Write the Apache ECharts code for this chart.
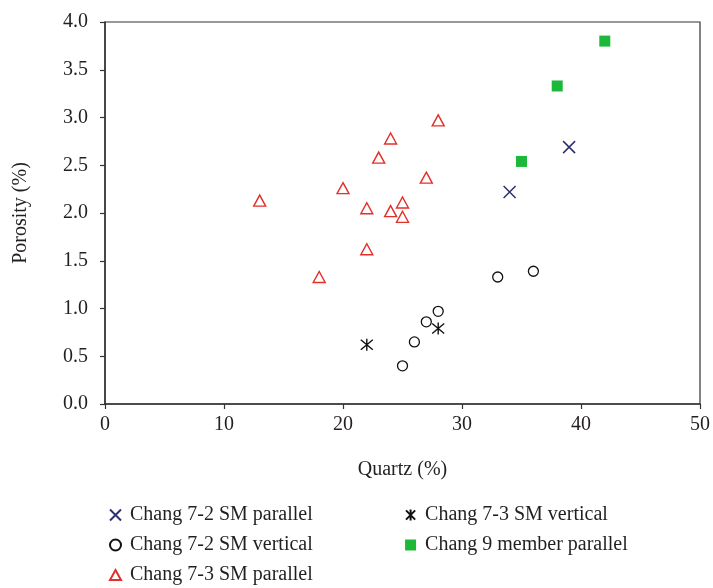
<!DOCTYPE html>
<html>
<head>
<meta charset="utf-8">
<script src="https://cdn.jsdelivr.net/npm/echarts@6/dist/echarts.min.js"></script>
<style>html,body{margin:0;padding:0;background:#fff}#c{width:713px;height:588px}</style>
</head>
<body>
<div id="c"></div>
<script>
var seriesNames = ['Chang 7-2 SM parallel','Chang 7-2 SM vertical','Chang 7-3 SM parallel','Chang 7-3 SM vertical','Chang 9 member parallel'];
var c72Parallel = [[34,2.22],[39,2.69]];
var c72Vertical = [[25,0.40],[26,0.65],[27,0.86],[28,0.97],[33,1.33],[36,1.39]];
var c73Parallel = [[13,2.13],[18,1.33],[20,2.26],[22,2.05],[22,1.62],[23,2.58],[24,2.78],[24,2.02],[25,2.11],[25,1.96],[27,2.37],[28,2.97]];
var c73Vertical = [[22,0.62],[28,0.79]];
var c9Parallel = [[35,2.54],[38,3.33],[42,3.80]];
var xTicks = [0,10,20,30,40,50];
var yTicks = [0,0.5,1,1.5,2,2.5,3,3.5,4];

var FONT = 'Liberation Serif';
var TXT = '#231f20';
var crossPath = 'path://M0,0L10,10M10,0L0,10';
var asterPath = 'path://M0,0L10,10M10,0L0,10M5,-1L5,11';
var triPath = 'path://M5,0L10,9L0,9Z';

var legendText = {fontFamily:FONT,fontSize:20,lineHeight:20,color:TXT,padding:[0,0,0,4]};

var chart = echarts.init(document.getElementById('c'));
chart.setOption({
  animation:false,
  backgroundColor:'#fff',
  grid:{left:105,right:10,top:22,bottom:184,show:true,borderColor:'#333',borderWidth:1.2,backgroundColor:'transparent'},
  xAxis:{type:'value',min:0,max:50,interval:10,
    name:'Quartz (%)',nameLocation:'middle',nameGap:56,
    nameTextStyle:{fontFamily:FONT,fontSize:20,color:TXT},
    axisLine:{show:true,lineStyle:{color:'#333',width:1.5}},
    axisTick:{show:true,inside:false,length:5,lineStyle:{color:'#333',width:1.2}},
    axisLabel:{fontFamily:FONT,fontSize:20,color:TXT,margin:11,formatter:function(v){return xTicks.indexOf(v)>=0?String(v):'';}},
    splitLine:{show:false}},
  yAxis:{type:'value',min:0,max:4,interval:0.5,
    name:'Porosity (%)',nameLocation:'middle',nameGap:74,
    nameTextStyle:{fontFamily:FONT,fontSize:20,color:TXT},
    axisLine:{show:true,lineStyle:{color:'#333',width:1.5}},
    axisTick:{show:true,inside:false,length:5,lineStyle:{color:'#333',width:1.2}},
    axisLabel:{fontFamily:FONT,fontSize:20,color:TXT,margin:17,formatter:function(v){return yTicks.indexOf(v)>=0?v.toFixed(1):'';}},
    splitLine:{show:false}},
  legend:[
    {orient:'vertical',left:109,top:505,itemGap:10,itemWidth:11,itemHeight:11,padding:0,
     textStyle:legendText,
     data:[seriesNames[0],seriesNames[1],seriesNames[2]]},
    {orient:'vertical',left:405,top:505,itemGap:10,itemWidth:11,itemHeight:11,padding:0,
     textStyle:legendText,
     data:[seriesNames[3],seriesNames[4]]}
  ],
  series:[
    {name:seriesNames[0],type:'scatter',data:c72Parallel,symbol:crossPath,symbolSize:12,
     itemStyle:{color:'transparent',borderColor:'#2d3170',borderWidth:1.5,opacity:1}},
    {name:seriesNames[1],type:'scatter',data:c72Vertical,symbol:'circle',symbolSize:10,
     itemStyle:{color:'transparent',borderColor:'#111',borderWidth:1.3,opacity:1}},
    {name:seriesNames[2],type:'scatter',data:c73Parallel,symbol:triPath,symbolSize:[12,11],
     itemStyle:{color:'transparent',borderColor:'#e2302a',borderWidth:1.4,opacity:1}},
    {name:seriesNames[3],type:'scatter',data:c73Vertical,symbol:asterPath,symbolSize:12,
     itemStyle:{color:'transparent',borderColor:'#111',borderWidth:1.4,opacity:1}},
    {name:seriesNames[4],type:'scatter',data:c9Parallel,symbol:'rect',symbolSize:11,
     itemStyle:{color:'#1bb83a',opacity:1}}
  ]
});
</script>
</body>
</html>
